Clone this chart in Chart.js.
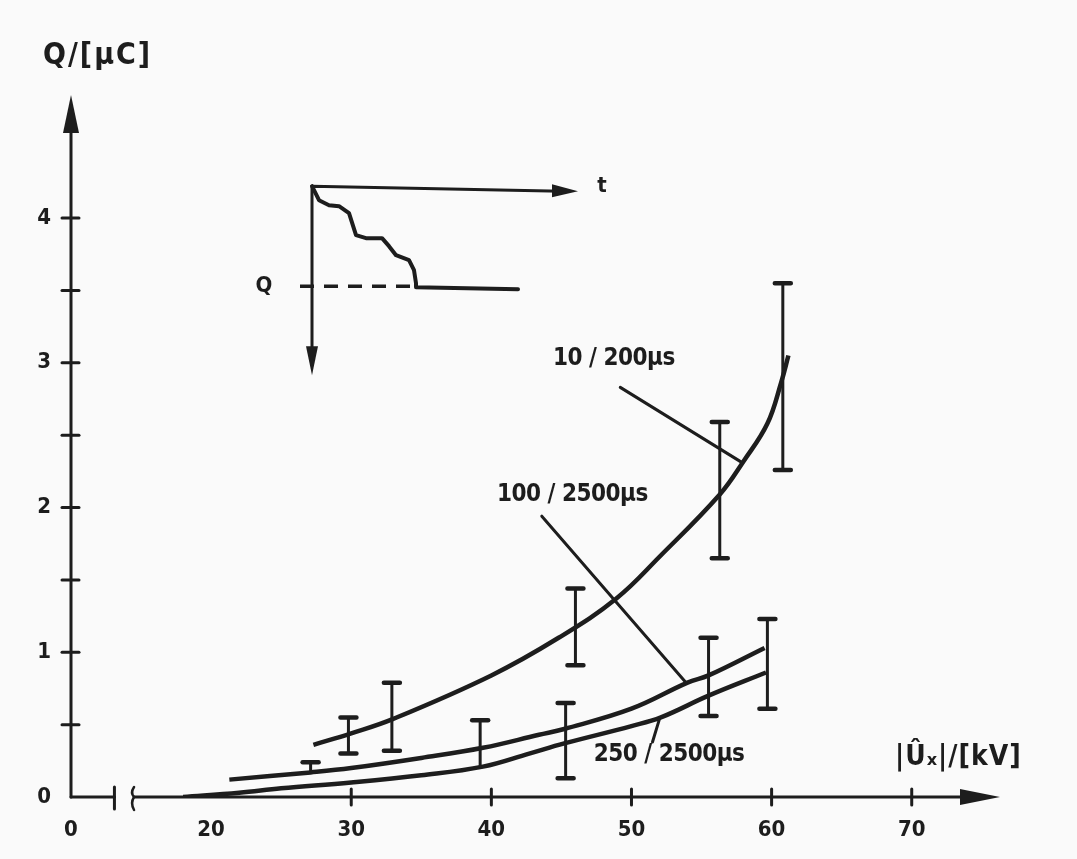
<!DOCTYPE html>
<html>
<head>
<meta charset="utf-8">
<script src="https://cdn.jsdelivr.net/npm/chart.js@4.4.1/dist/chart.umd.min.js"></script>
<style>
  html, body { margin: 0; padding: 0; background: #fafafa; }
  #wrap { width: 1077px; height: 859px; position: relative; }
</style>
</head>
<body>
<div id="wrap"><canvas id="chart"></canvas></div>
<script>
// curve 10/200 us
const aX = [27.3, 30, 33, 40, 44.8, 48.9, 52, 56.3, 58, 59.7, 60.7, 61.2];
const aY = [0.36, 0.44, 0.54, 0.84, 1.10, 1.37, 1.66, 2.09, 2.32, 2.58, 2.87, 3.05];
// curve 100/2500 us
const bX = [21.3, 27.1, 30, 35, 39.4, 43.4, 45.2, 50, 54, 55.5, 59.5];
const bY = [0.12, 0.17, 0.20, 0.27, 0.34, 0.43, 0.47, 0.61, 0.79, 0.84, 1.03];
// curve 250/2500 us
const cX = [18, 22, 25, 30, 35, 39.4, 42.7, 45.2, 50, 52.1, 55.5, 59.6];
const cY = [0.0, 0.03, 0.06, 0.10, 0.15, 0.21, 0.30, 0.37, 0.49, 0.55, 0.70, 0.86];

// error bars
const errX  = [27.1, 29.8, 32.9, 39.2, 45.3, 46.0, 55.5, 56.3, 59.7, 60.8];
const errLo = [0.17, 0.30, 0.32, 0.21, 0.13, 0.91, 0.56, 1.65, 0.61, 2.26];
const errHi = [0.24, 0.55, 0.79, 0.53, 0.65, 1.44, 1.10, 2.59, 1.23, 3.55];
const errLoCap = [false, true, true, false, true, true, true, true, true, true];

// axes
const xTickValues = [10, 20, 30, 40, 50, 60, 70];
const xTickLabels = ["0", "20", "30", "40", "50", "60", "70"];
const xTickMarks = [30, 40, 50, 60, 70];
const yTickValues = [0, 1, 2, 3, 4];
const yTickLabels = ["0", "1", "2", "3", "4"];
const yTickMarks = [0.5, 1, 1.5, 2, 2.5, 3, 3.5, 4];

// curve labels: text, text anchor (x,y), leader from, leader to
const curveLabels = [
  { text: "10 / 200\u00b5s",   at: [44.4, 3.03], from: [49.2, 2.83], to: [57.9, 2.31] },
  { text: "100 / 2500\u00b5s", at: [40.4, 2.09], from: [43.6, 1.94], to: [53.9, 0.79] },
  { text: "250 / 2500\u00b5s", at: [47.3, 0.29], from: [51.5, 0.38], to: [52.0, 0.54] },
];

const INK = "#1d1d1d";
const FONT = '"DejaVu Sans Condensed", "DejaVu Sans", sans-serif';

const pts = (xs, ys) => xs.map((x, i) => ({ x: x, y: ys[i] }));

const curveStyle = {
  showLine: true,
  borderColor: INK,
  borderWidth: 4.5,
  pointRadius: 0,
  tension: 0.4,
  fill: false,
};

const sketchPlugin = {
  id: "sketch",
  beforeDatasetsDraw(chart) {
    const ctx = chart.ctx;
    const xs = chart.scales.x, ys = chart.scales.y;
    const x0 = xs.left, y0 = ys.getPixelForValue(0);
    ctx.save();
    ctx.strokeStyle = INK;
    ctx.fillStyle = INK;
    ctx.lineCap = "round";
    ctx.lineWidth = 3;
    // y axis
    ctx.beginPath();
    ctx.moveTo(x0, y0);
    ctx.lineTo(x0, ys.top + 20);
    ctx.stroke();
    ctx.beginPath();
    ctx.moveTo(x0, ys.top);
    ctx.lineTo(x0 - 8, ys.top + 38);
    ctx.lineTo(x0 + 8, ys.top + 38);
    ctx.closePath();
    ctx.fill();
    yTickMarks.forEach(v => {
      const p = ys.getPixelForValue(v);
      ctx.beginPath();
      ctx.moveTo(x0 - 9, p);
      ctx.lineTo(x0 + 8, p);
      ctx.stroke();
    });
    // x axis with break
    const b1 = xs.getPixelForValue(13.1), b2 = xs.getPixelForValue(14.5);
    ctx.beginPath();
    ctx.moveTo(x0, y0);
    ctx.lineTo(b1, y0);
    ctx.moveTo(b2, y0);
    ctx.lineTo(xs.right - 30, y0);
    ctx.stroke();
    ctx.beginPath();
    ctx.moveTo(b1, y0 - 10);
    ctx.lineTo(b1, y0 + 12);
    ctx.stroke();
    ctx.lineWidth = 2.5;
    ctx.beginPath();
    ctx.moveTo(b2, y0 - 10);
    ctx.quadraticCurveTo(b2 - 4, y0 - 4, b2, y0);
    ctx.quadraticCurveTo(b2 - 4, y0 + 6, b2, y0 + 13);
    ctx.stroke();
    ctx.lineWidth = 3;
    ctx.beginPath();
    ctx.moveTo(xs.right, y0);
    ctx.lineTo(xs.right - 40, y0 - 8);
    ctx.lineTo(xs.right - 40, y0 + 8);
    ctx.closePath();
    ctx.fill();
    xTickMarks.forEach(v => {
      const p = xs.getPixelForValue(v);
      ctx.beginPath();
      ctx.moveTo(p, y0 - 8);
      ctx.lineTo(p, y0 + 8);
      ctx.stroke();
    });
    ctx.restore();
  },
  afterDatasetsDraw(chart) {
    const ctx = chart.ctx;
    const xs = chart.scales.x, ys = chart.scales.y;
    const px = v => xs.getPixelForValue(v), py = v => ys.getPixelForValue(v);
    ctx.save();
    ctx.strokeStyle = INK;
    ctx.fillStyle = INK;
    ctx.lineCap = "round";

    // error bars
    errX.forEach((x, i) => {
      const X = px(x), lo = py(errLo[i]), hi = py(errHi[i]);
      ctx.lineWidth = 3;
      ctx.beginPath();
      ctx.moveTo(X, lo);
      ctx.lineTo(X, hi);
      ctx.stroke();
      ctx.lineWidth = 4.5;
      ctx.beginPath();
      ctx.moveTo(X - 8, hi);
      ctx.lineTo(X + 8, hi);
      if (errLoCap[i]) {
        ctx.moveTo(X - 8, lo);
        ctx.lineTo(X + 8, lo);
      }
      ctx.stroke();
    });

    // curve labels and leaders
    ctx.font = "bold 24px " + FONT;
    ctx.letterSpacing = "-0.5px";
    ctx.textBaseline = "middle";
    ctx.textAlign = "left";
    curveLabels.forEach(l => {
      ctx.fillText(l.text, px(l.at[0]), py(l.at[1]));
      ctx.lineWidth = 3;
      ctx.beginPath();
      ctx.moveTo(px(l.from[0]), py(l.from[1]));
      ctx.lineTo(px(l.to[0]), py(l.to[1]));
      ctx.stroke();
    });
    ctx.letterSpacing = "0px";

    // inset sketch of Q(t)
    const ox = px(27.2), oy = py(4.22);
    ctx.lineWidth = 3;
    ctx.beginPath();
    ctx.moveTo(ox, oy);
    ctx.lineTo(ox + 250, oy + 5);
    ctx.moveTo(ox, oy);
    ctx.lineTo(ox, oy + 170);
    ctx.stroke();
    ctx.beginPath();
    ctx.moveTo(ox + 266, oy + 5);
    ctx.lineTo(ox + 240, oy - 2);
    ctx.lineTo(ox + 240, oy + 11);
    ctx.closePath();
    ctx.fill();
    ctx.beginPath();
    ctx.moveTo(ox, oy + 189);
    ctx.lineTo(ox - 6, oy + 160);
    ctx.lineTo(ox + 6, oy + 160);
    ctx.closePath();
    ctx.fill();
    ctx.lineWidth = 4;
    ctx.lineJoin = "round";
    const step = [[0, 0], [7, 14], [17, 19], [27, 20], [37, 27], [44, 49], [54, 52], [70, 52],
                  [77, 60], [84, 69], [97, 74], [102, 84], [104, 97], [104, 101]];
    ctx.beginPath();
    step.forEach(([dx, dy], i) => i ? ctx.lineTo(ox + dx, oy + dy) : ctx.moveTo(ox + dx, oy + dy));
    ctx.lineTo(ox + 206, oy + 103);
    ctx.stroke();
    ctx.lineWidth = 3.5;
    ctx.setLineDash([14, 10]);
    ctx.lineCap = "butt";
    ctx.beginPath();
    ctx.moveTo(ox - 12, oy + 100);
    ctx.lineTo(ox + 104, oy + 100);
    ctx.stroke();
    ctx.setLineDash([]);
    ctx.font = "bold 22px " + FONT;
    ctx.textAlign = "center";
    ctx.fillText("t", ox + 290, oy);
    ctx.fillText("Q", ox - 48, oy + 100);

    // axis titles
    ctx.textAlign = "left";
    ctx.textBaseline = "alphabetic";
    ctx.font = "bold 30px " + FONT;
    ctx.letterSpacing = "2px";
    ctx.fillText("Q/[\u00b5C]", 43, 64);
    ctx.font = "bold 28px " + FONT;
    ctx.letterSpacing = "1px";
    ctx.fillText("|\u00db\u2093|/[kV]", 895, 765);
    ctx.restore();
  },
};

new Chart(document.getElementById("chart"), {
  type: "scatter",
  data: {
    datasets: [
      Object.assign({ label: "10/200 \u00b5s", data: pts(aX, aY) }, curveStyle),
      Object.assign({ label: "100/2500 \u00b5s", data: pts(bX, bY) }, curveStyle),
      Object.assign({ label: "250/2500 \u00b5s", data: pts(cX, cY) }, curveStyle),
    ],
  },
  options: {
    responsive: true,
    maintainAspectRatio: false,
    animation: false,
    layout: { padding: { left: 20, right: 77, top: 95, bottom: 0 } },
    plugins: { legend: { display: false }, tooltip: { enabled: false } },
    scales: {
      x: {
        type: "linear",
        min: 10,
        max: 76.3,
        afterBuildTicks: s => { s.ticks = xTickValues.map(v => ({ value: v })); },
        afterFit: s => { s.height = 62; },
        ticks: {
          callback: (v, i) => xTickLabels[i],
          color: INK,
          font: { family: FONT, size: 22, weight: "bold" },
          padding: 20,
          maxRotation: 0,
          autoSkip: false,
        },
        grid: { display: false, drawTicks: false },
        border: { display: false },
      },
      y: {
        min: 0,
        max: 4.85,
        afterBuildTicks: s => { s.ticks = yTickValues.map(v => ({ value: v })); },
        afterFit: s => { s.width = 51; },
        ticks: {
          callback: (v, i) => yTickLabels[i],
          color: INK,
          font: { family: FONT, size: 22, weight: "bold" },
          padding: 20,
        },
        grid: { display: false, drawTicks: false },
        border: { display: false },
      },
    },
  },
  plugins: [sketchPlugin],
});
</script>
</body>
</html>
